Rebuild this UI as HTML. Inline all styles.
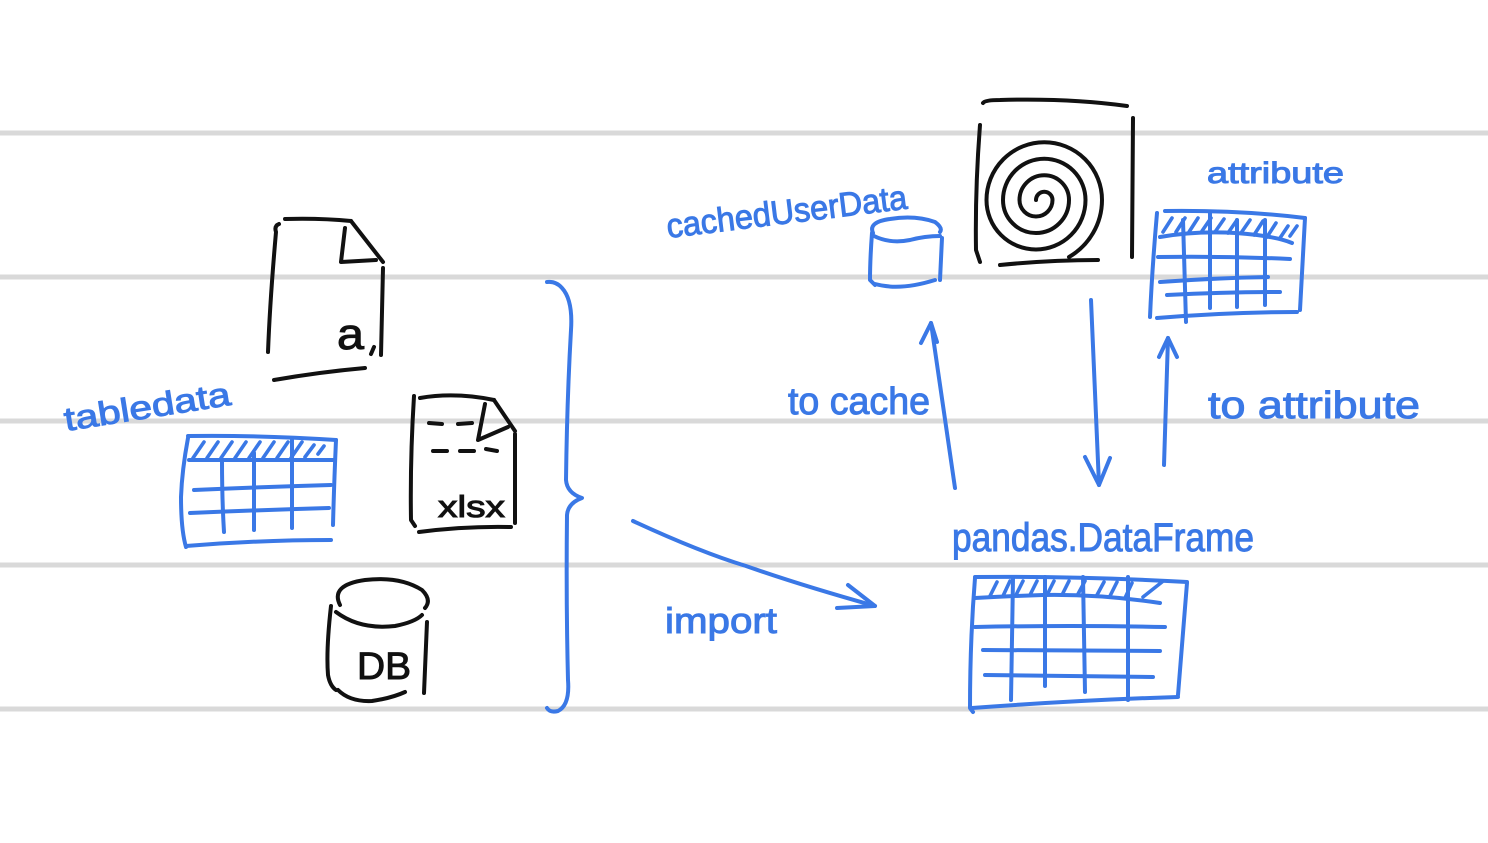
<!DOCTYPE html>
<html><head><meta charset="utf-8">
<style>
html,body{margin:0;padding:0;background:#fff;}
svg{display:block;}
.k{stroke:#111;fill:none;stroke-width:4;stroke-linecap:round;stroke-linejoin:round;}
.b{stroke:#3a78e6;fill:none;stroke-width:4;stroke-linecap:round;stroke-linejoin:round;}
.b3{stroke:#3a78e6;fill:none;stroke-width:3.6;stroke-linecap:round;stroke-linejoin:round;}
.g{stroke:#d9d9d9;stroke-width:5;}
.tb{fill:#3a78e6;stroke:#3a78e6;stroke-width:1;font-family:"Liberation Sans",sans-serif;}
.tk{fill:#111;stroke:#111;stroke-width:1;font-family:"Liberation Sans",sans-serif;}
</style></head><body>
<svg width="1488" height="843" viewBox="0 0 1488 843" xmlns="http://www.w3.org/2000/svg">
<rect width="1488" height="843" fill="#fff"/>
<line class="g" x1="0" y1="133" x2="1488" y2="133"/>
<line class="g" x1="0" y1="277" x2="1488" y2="277"/>
<line class="g" x1="0" y1="421" x2="1488" y2="421"/>
<line class="g" x1="0" y1="565" x2="1488" y2="565"/>
<line class="g" x1="0" y1="709" x2="1488" y2="709"/>

<!-- Doc "a" -->
<path class="k" d="M285 219 Q320 218 351 221"/>
<path class="k" d="M279 224 Q274 226 276 232 Q270 300 268 352"/>
<path class="k" d="M351 221 L383 262"/>
<path class="k" d="M345 228 L341 262 L376 260"/>
<path class="k" d="M383 268 L381 355"/>
<path class="k" d="M274 380 Q320 372 365 368"/>
<text class="tk" x="337" y="349" font-size="44" textLength="27" lengthAdjust="spacingAndGlyphs">a</text>
<path class="k" d="M374 347 L371 354"/>

<!-- Doc xlsx -->
<path class="k" d="M420 398 Q455 392 494 400"/>
<path class="k" d="M414 396 Q410 460 411 520 L415 526"/>
<path class="k" d="M494 400 L515 431"/>
<path class="k" d="M485 404 L478 440 L508 427"/>
<path class="k" d="M515 434 L515 523"/>
<path class="k" d="M419 532 Q465 526 511 527"/>
<path class="k" d="M429 423 L442 424 M458 424 L472 423 M433 451 L447 451 M460 451 L474 451 M486 449 L497 451"/>
<text class="tk" x="438" y="517" font-size="31" textLength="67" lengthAdjust="spacingAndGlyphs">xlsx</text>

<!-- DB cylinder -->
<path class="k" d="M340 605 Q330 585 365 580 Q400 576 422 590 Q432 600 425 608"/>
<path class="k" d="M336 612 Q360 630 395 626 Q415 622 422 615"/>
<path class="k" d="M331 606 Q326 650 328 675 Q330 686 336 690"/>
<path class="k" d="M427 622 L424 693"/>
<path class="k" d="M338 690 Q350 702 372 701 Q392 698 405 692"/>
<text class="tk" x="357" y="679" font-size="38" textLength="54" lengthAdjust="spacingAndGlyphs">DB</text>

<!-- table data label -->
<text class="tb" x="66" y="431" font-size="33" textLength="168" lengthAdjust="spacingAndGlyphs" transform="rotate(-9 66 431)">tabledata</text>

<!-- left table -->
<path class="b" d="M188 436 Q260 435 336 440"/>
<path class="b" d="M188 438 Q182 470 181 497 Q181 530 186 547"/>
<path class="b" d="M336 440 Q334 485 333 525"/>
<path class="b" d="M186 546 Q260 540 331 540"/>
<path class="b" d="M189 460 L333 460"/>
<path class="b" d="M194 490 Q260 487 331 485"/>
<path class="b" d="M190 513 Q260 510 329 508"/>
<path class="b" d="M222 460 Q222 500 224 532"/>
<path class="b" d="M254 453 L254 530"/>
<path class="b" d="M292 440 L292 528"/>
<path class="b3" d="M193 458 L204 442 M207 458 L218 442 M221 458 L232 442 M235 458 L246 442 M249 458 L260 442 M263 458 L274 442 M277 458 L288 442 M291 458 L302 442 M305 457 L314 445 M318 454 L324 446"/>

<!-- brace -->
<path class="b" d="M547 282 Q556 281 562 288 Q573 300 571 330 Q567 400 566 480 Q567 493 582 498 Q568 503 567 515 Q566 600 568 680 Q570 705 558 711 Q550 713 547 708"/>

<!-- import arrow -->
<path class="b" d="M633 521 Q700 552 746 566 Q800 585 875 606"/>
<path class="b" d="M848 585 L875 606 L837 608"/>
<text class="tb" x="665" y="633" font-size="36" textLength="112" lengthAdjust="spacingAndGlyphs">import</text>

<!-- cachedUserData label + cylinder -->
<text class="tb" x="668" y="238" font-size="34" textLength="242" lengthAdjust="spacingAndGlyphs" transform="rotate(-7 668 238)">cachedUserData</text>
<path class="b" d="M873 233 Q868 222 890 219 Q915 215 935 222 Q943 228 940 232"/>
<path class="b" d="M874 236 Q890 244 910 240 Q925 236 940 236"/>
<path class="b" d="M872 233 Q870 260 870 280 L875 285"/>
<path class="b" d="M942 238 L940 280"/>
<path class="b" d="M875 284 Q900 291 935 280"/>

<!-- spiral box -->
<path class="k" d="M983 103 Q985 100 1000 100 Q1070 98 1127 106"/>
<path class="k" d="M980 125 Q975 190 976 250 L980 262"/>
<path class="k" d="M1133 118 L1132 257"/>
<path class="k" d="M1000 265 Q1050 260 1098 260"/>
<path class="k" d="M1036 200 A8.25 8.25 0 0 1 1052.5 200 A16.5 16.5 0 0 1 1019.5 200 A24.75 24.75 0 0 1 1069 200 A33 33 0 0 1 1003 200 A41.25 41.25 0 0 1 1085.5 200 A49.5 49.5 0 0 1 986.5 200 A57.75 57.75 0 0 1 1102 200 A66 66 0 0 1 1069 257"/>

<!-- attribute label + table -->
<text class="tb" x="1207" y="183" font-size="30" textLength="137" lengthAdjust="spacingAndGlyphs">attribute</text>
<path class="b" d="M1165 211 Q1240 210 1305 218"/>
<path class="b" d="M1157 213 Q1152 270 1150 317"/>
<path class="b" d="M1305 218 L1300 310"/>
<path class="b" d="M1157 318 Q1230 312 1297 312"/>
<path class="b" d="M1160 237 Q1207 229 1257 235 Q1280 238 1292 243"/>
<path class="b" d="M1158 257 Q1225 256 1290 259"/>
<path class="b" d="M1160 282 Q1215 278 1268 277"/>
<path class="b" d="M1167 295 Q1225 292 1280 292"/>
<path class="b" d="M1183 220 L1186 322"/>
<path class="b" d="M1210 212 L1210 308"/>
<path class="b" d="M1237 220 L1237 307"/>
<path class="b" d="M1265 220 L1265 305"/>
<path class="b3" d="M1163 232 L1172 218 M1176 232 L1185 218 M1189 232 L1198 218 M1202 231 L1211 218 M1215 232 L1224 219 M1228 233 L1237 220 M1241 233 L1250 220 M1254 235 L1263 221 M1267 237 L1276 223 M1280 238 L1288 226 M1290 236 L1297 226"/>

<!-- arrows right side -->
<path class="b" d="M955 488 L931 323"/>
<path class="b" d="M921 343 L931 323 L937 342"/>
<text class="tb" x="788" y="414" font-size="38" textLength="142" lengthAdjust="spacingAndGlyphs">to cache</text>

<path class="b" d="M1091 300 L1099 485"/>
<path class="b" d="M1085 457 L1099 485 L1110 458"/>

<path class="b" d="M1164 465 L1168 338"/>
<path class="b" d="M1159 357 L1168 338 L1177 357"/>
<text class="tb" x="1208" y="418" font-size="38" textLength="212" lengthAdjust="spacingAndGlyphs">to attribute</text>

<!-- pandas.DataFrame -->
<text class="tb" x="952" y="551" font-size="40" textLength="302" lengthAdjust="spacingAndGlyphs">pandas.DataFrame</text>
<path class="b" d="M975 577 Q1080 576 1187 582"/>
<path class="b" d="M975 578 Q970 640 970 708 L973 712"/>
<path class="b" d="M1187 583 L1178 695"/>
<path class="b" d="M972 708 Q1080 700 1178 697"/>
<path class="b" d="M975 598 Q1010 596 1043 595 Q1100 594 1160 603"/>
<path class="b" d="M975 627 Q1070 625 1165 627"/>
<path class="b" d="M983 650 L1160 651"/>
<path class="b" d="M985 675 L1153 677"/>
<path class="b" d="M1013 578 L1011 700"/>
<path class="b" d="M1045 577 L1045 686"/>
<path class="b" d="M1083 577 L1085 692"/>
<path class="b" d="M1128 577 L1128 700"/>
<path class="b3" d="M990 596 L997 582 M1003 596 L1010 581 M1016 595 L1023 581 M1030 595 L1037 581 M1047 595 L1054 581 M1062 595 L1069 581 M1078 594 L1085 581 M1097 595 L1104 582 M1110 596 L1117 582 M1125 598 L1132 583 M1143 597 L1162 582"/>
</svg>
</body></html>
